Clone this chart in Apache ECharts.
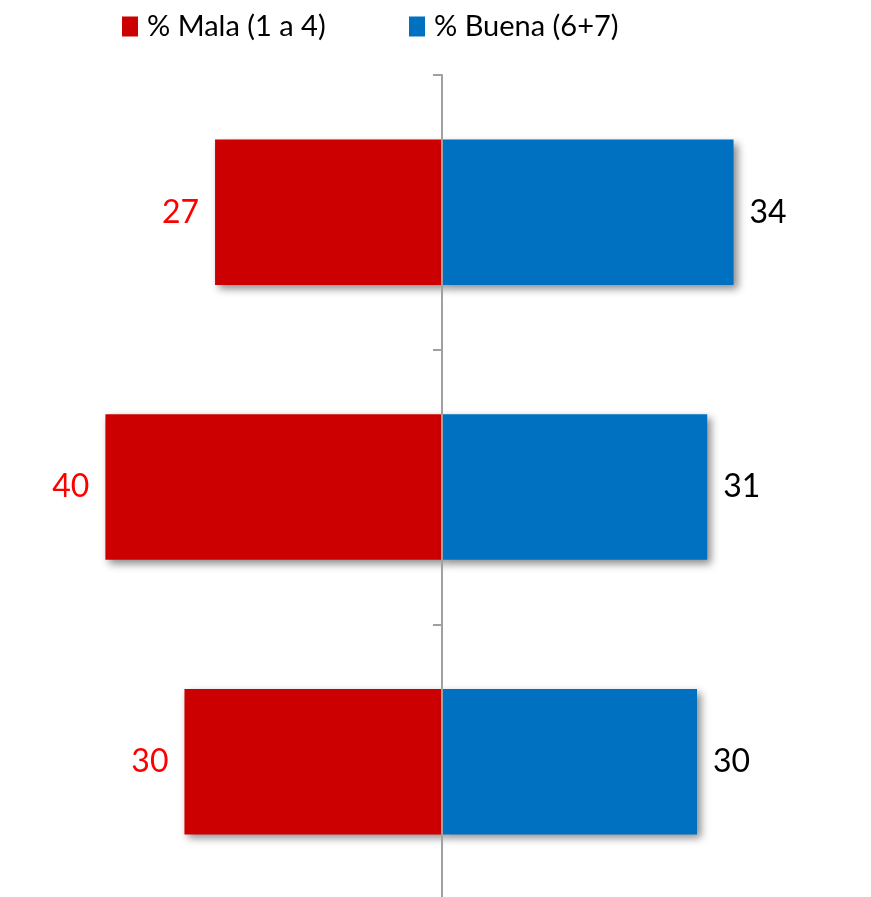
<!DOCTYPE html>
<html>
<head>
<meta charset="utf-8">
<script src="https://cdn.jsdelivr.net/npm/echarts@6/dist/echarts.min.js"></script>
<style>
html,body{margin:0;padding:0;background:#fff;}
#chart{width:871px;height:897px;}
</style>
</head>
<body>
<div id="chart"></div>
<script>
const categories = ['Grupo 1', 'Grupo 2', 'Grupo 3'];
const malaValues = [26.7, 39.6, 30.3];
const buenaValues = [34.3, 31.2, 30.0];
const seriesNames = ['% Mala (1 a 4)', '% Buena (6+7)'];

const FONT = 'Lato';
const chart = echarts.init(document.getElementById('chart'), null, {renderer: 'canvas'});

const shadow = {
  shadowBlur: 8,
  shadowColor: 'rgba(0,0,0,0.45)',
  shadowOffsetX: 4,
  shadowOffsetY: 4
};

const option = {
  backgroundColor: '#ffffff',
  animation: false,
  legend: [
    {
      data: [seriesNames[0]],
      left: 122, top: 12, padding: 0,
      icon: 'rect', itemWidth: 16, itemHeight: 20,
      textStyle: {fontFamily: FONT, fontSize: 29, color: '#000', padding: [0, 0, 0, 4]}
    },
    {
      data: [seriesNames[1]],
      left: 409, top: 12, padding: 0,
      icon: 'rect', itemWidth: 16, itemHeight: 20,
      textStyle: {fontFamily: FONT, fontSize: 29, color: '#000', padding: [0, 0, 0, 4]}
    }
  ],
  grid: {left: 59.5, width: 765, top: 75, height: 824, containLabel: false, outerBoundsMode: 'none'},
  xAxis: {type: 'value', min: -45, max: 45, show: false},
  yAxis: {
    type: 'category',
    data: categories,
    inverse: true,
    z: 10,
    axisLine: {show: true, onZero: true, lineStyle: {color: '#a0a0a0', width: 2}},
    axisTick: {show: true, length: 9, lineStyle: {color: '#a0a0a0', width: 2}},
    axisLabel: {show: false},
    splitLine: {show: false}
  },
  series: [
    {
      name: seriesNames[0],
      type: 'bar',
      stack: 'total',
      barWidth: '53%',
      data: malaValues.map(v => -v),
      itemStyle: Object.assign({color: '#cc0000'}, shadow),
      label: {
        show: true, position: 'left', distance: 16,
        fontFamily: FONT, fontSize: 32, color: '#ff0000', padding: [6, 0, 0, 0],
        formatter: p => Math.round(Math.abs(p.value))
      }
    },
    {
      name: seriesNames[1],
      type: 'bar',
      stack: 'total',
      barWidth: '53%',
      data: buenaValues,
      itemStyle: Object.assign({color: '#0070c0'}, shadow),
      label: {
        show: true, position: 'right', distance: 16,
        fontFamily: FONT, fontSize: 32, color: '#000000', padding: [6, 0, 0, 0],
        formatter: p => Math.round(p.value)
      }
    }
  ]
};
chart.setOption(option);
</script>
</body>
</html>
